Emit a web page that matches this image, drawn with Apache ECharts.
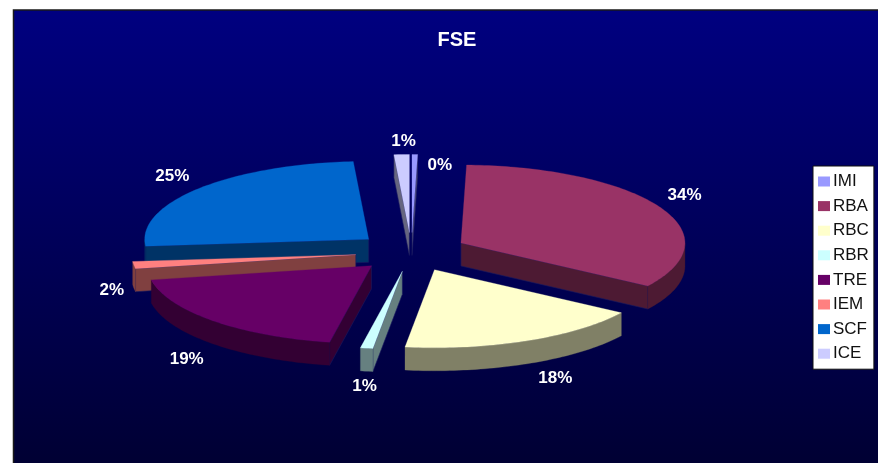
<!DOCTYPE html>
<html>
<head>
<meta charset="utf-8">
<style>html,body{margin:0;padding:0;background:#fff}#c{width:878px;height:463px}</style>
<script src="https://cdn.jsdelivr.net/npm/echarts@6/dist/echarts.min.js"></script>
</head>
<body>
<div id="c"></div>
<script>
var categories = ['IMI','RBA','RBC','RBR','TRE','IEM','SCF','ICE'];
var values = [0.4, 33.9, 17.8, 0.9, 19.1, 1.5, 25.3, 1.1];
var topColors = ['#9999ff','#993366','#ffffcc','#ccffff','#660066','#ff8080','#0066cc','#ccccff'];
var sideColors = ['#4d4d80','#4d1a33','#808066','#668080','#330033','#804040','#003366','#666680'];
// paint order, back to front
var paintOrder = [6,7,0,1,5,4,2,3];
// label nudges from the rim point of each slice (layout only)
var labelNudge = [[25,11],[25,-12],[28,38],[-2,38],[-26,39],[-22,25],[-26,-12],[2,-13]];

var CX = 411.3, CY = 252, RX = 224, RY = 78, DEPTH = 23, EXPLODE = 0.25;
var total = values.reduce(function(a,b){return a+b;},0);
var bounds = [0];
values.forEach(function(v,i){ bounds.push(bounds[i] + v/total*2*Math.PI); });

function pt(ax,ay,t,r){ return [ax + RX*r*Math.sin(t), ay - RY*r*Math.cos(t)]; }

function renderSlice(i){
  return function(){
    var t1 = bounds[i], t2 = bounds[i+1], m = (t1+t2)/2;
    var apex = pt(CX,CY,m,EXPLODE), ax = apex[0], ay = apex[1];
    var kids = [];
    function poly(pts,fill,stroke){
      kids.push({type:'polygon',shape:{points:pts},style:{fill:fill,stroke:stroke||fill,lineWidth:stroke?0.6:0.3}});
    }
    function wall(t){
      var p = pt(ax,ay,t,1);
      poly([[ax,ay],p,[p[0],p[1]+DEPTH],[ax,ay+DEPTH]],sideColors[i],'#1a1a60');
    }
    if (Math.sin(t1) < -1e-6) wall(t1);
    if (Math.sin(t2) > 1e-6) wall(t2);
    var a = Math.max(t1,Math.PI/2), b = Math.min(t2,1.5*Math.PI);
    if (b > a){
      var upper = [], lower = [], n = Math.max(2,Math.ceil((b-a)/0.02));
      for (var k=0;k<=n;k++){
        var p = pt(ax,ay,a+(b-a)*k/n,1);
        upper.push(p); lower.unshift([p[0],p[1]+DEPTH]);
      }
      poly(upper.concat(lower),sideColors[i]);
    }
    var face = [[ax,ay]], nf = Math.max(2,Math.ceil((t2-t1)/0.02));
    for (var j=0;j<=nf;j++) face.push(pt(ax,ay,t1+(t2-t1)*j/nf,1));
    poly(face,topColors[i]);
    var rim = pt(ax,ay,m,1);
    kids.push({type:'text',x:rim[0]+labelNudge[i][0],y:rim[1]+labelNudge[i][1],
      style:{text:Math.round(values[i]/total*100)+'%',fill:'#ffffff',align:'center',verticalAlign:'middle',
      font:'bold 17px "Liberation Sans", Arial, sans-serif'}});
    return {type:'group',children:kids};
  };
}

var series = categories.map(function(name,i){
  return {type:'custom',name:name,coordinateSystem:'none',data:[values[i]],
    z:10+paintOrder.indexOf(i),silent:true,animation:false,
    itemStyle:{color:topColors[i]},renderItem:renderSlice(i)};
});

var chart = echarts.init(document.getElementById('c'),null,{renderer:'canvas'});
chart.setOption({
  animation:false,
  backgroundColor:'#ffffff',
  graphic:[{type:'rect',z:-10,silent:true,shape:{x:13.5,y:10,width:866,height:454},
    style:{stroke:'#1a1a1a',lineWidth:1.5,
      fill:new echarts.graphic.LinearGradient(0,0,0,1,[{offset:0,color:'#000080'},{offset:1,color:'#000033'}])}}],
  title:{text:'FSE',left:452,top:25,textAlign:'center',
    textStyle:{color:'#ffffff',fontWeight:'bold',fontSize:20,fontFamily:'"Liberation Sans", Arial, sans-serif'}},
  legend:{orient:'vertical',left:813,top:166,width:65,data:categories,icon:'rect',
    backgroundColor:'#ffffff',borderColor:'#111111',borderWidth:1,borderRadius:0,
    padding:[7,5,7,5],itemWidth:12,itemHeight:10,itemGap:7.6,selectedMode:false,
    textStyle:{color:'#111111',fontSize:17,padding:[0,0,0,-2],fontFamily:'"Liberation Sans", Arial, sans-serif'}},
  series:series
});
</script>
</body>
</html>
